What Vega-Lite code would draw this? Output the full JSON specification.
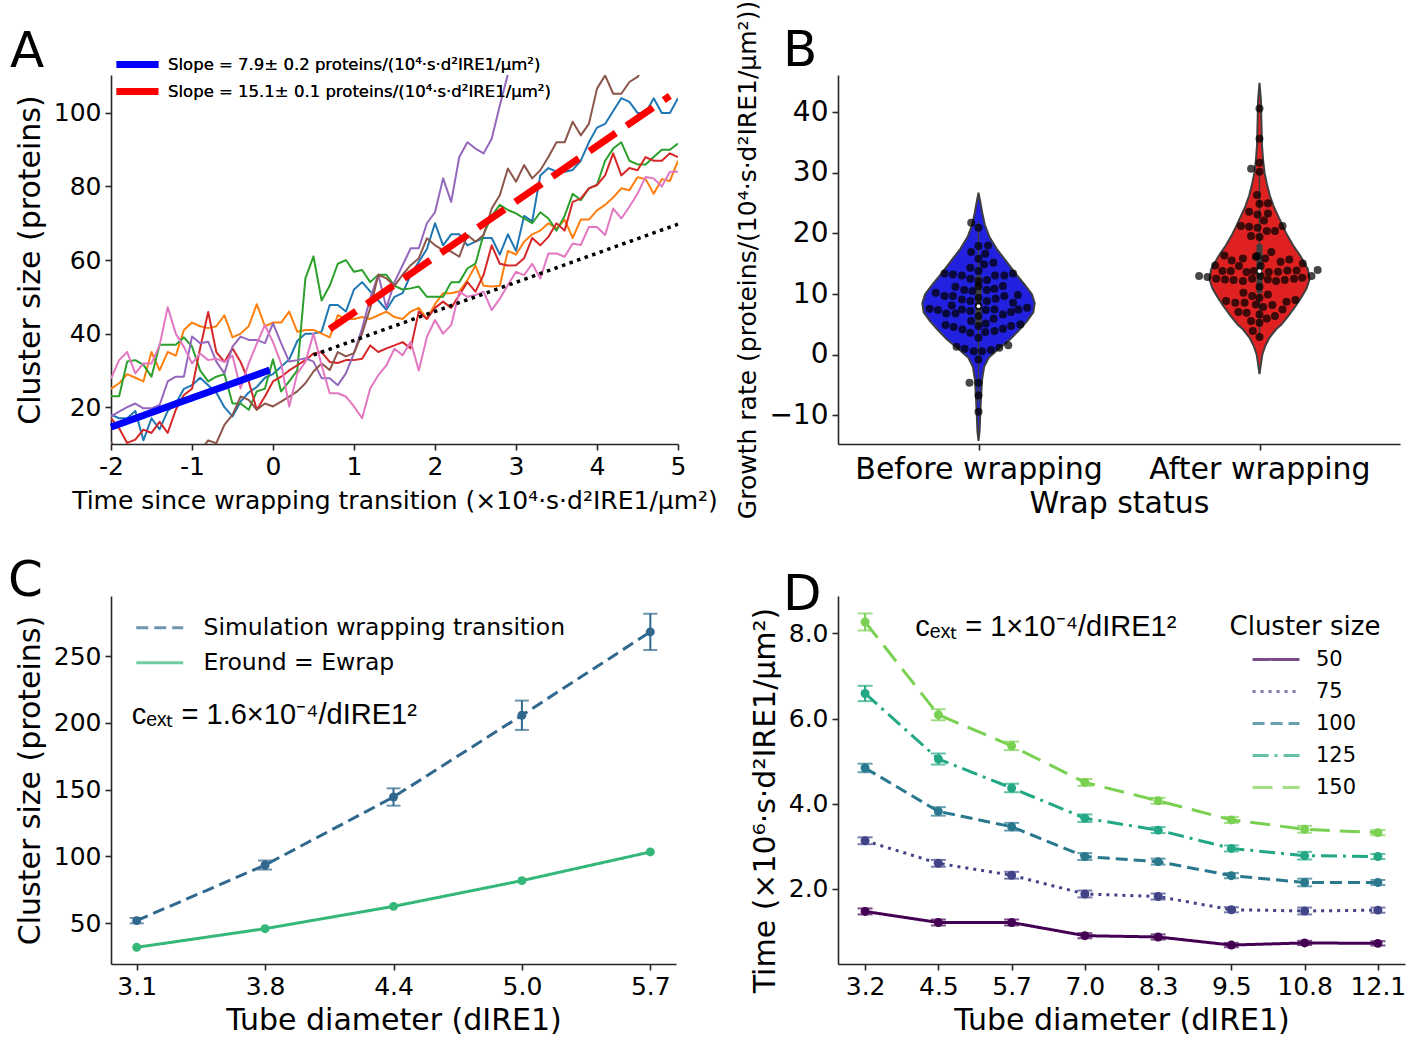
{
"$schema": "https://vega.github.io/schema/vega-lite/v6.json",
"background": "white",
"padding": {"left": 8, "top": 0, "right": 0, "bottom": 0},
"bounds": "flush",
"columns": 2,
"spacing": {"column": 160, "row": 152},
"resolve": {"scale": {"color": "independent", "strokeDash": "independent", "x": "independent", "y": "independent"}, "legend": {"color": "independent", "strokeDash": "independent"}},
"config": {
 "view": {"stroke": null},
 "font": "DejaVu Sans",
 "axis": {"grid": false, "labelFont": "DejaVu Sans", "titleFont": "DejaVu Sans", "labelFontSize": 25, "titleFontSize": 30, "titleFontWeight": "normal", "labelColor": "#000", "titleColor": "#000", "domainColor": "#262626", "tickColor": "#262626", "domainWidth": 1.6, "tickWidth": 1.6, "tickSize": 6, "labelPadding": 4, "labelFlush": false, "labelOverlap": false, "labelLimit": 0},
 "legend": {"labelFont": "DejaVu Sans", "titleFont": "DejaVu Sans", "titleFontWeight": "normal", "labelColor": "#000", "titleColor": "#000", "padding": 0, "labelLimit": 0},
 "title": {"font": "DejaVu Sans", "fontSize": 50, "fontWeight": "normal", "anchor": "start", "color": "#000", "frame": "group", "offset": 0, "baseline": "alphabetic"}
},
"concat": [
{
 "width": 567, "height": 369,
 "title": {"text": "A", "dx": -101, "dy": 27},
 "layer": [
  {
   "data": {"values": [
{"x":-2,"b":18,"o":25,"g":23,"r":17,"p":17.5,"n":10.5,"k":27.8},
{"x":-1.9,"b":17,"o":26.5,"g":23,"r":14.3,"p":18.8,"n":8,"k":32.8},
{"x":-1.8,"b":17,"o":29,"g":32.4,"r":10.3,"p":20,"n":6,"k":35},
{"x":-1.7,"b":19,"o":28,"g":32.8,"r":11.2,"p":21,"n":5,"k":29.2},
{"x":-1.6,"b":11,"o":27,"g":31.5,"r":13.9,"p":19.7,"n":4,"k":31.9},
{"x":-1.5,"b":17,"o":35,"g":28.3,"r":13,"p":19.7,"n":5,"k":31.9},
{"x":-1.4,"b":14,"o":30,"g":37,"r":16,"p":20.6,"n":3,"k":36.8},
{"x":-1.3,"b":19,"o":35,"g":37,"r":13,"p":27,"n":4,"k":47.2},
{"x":-1.2,"b":21,"o":34,"g":37,"r":19.3,"p":28.3,"n":5,"k":40},
{"x":-1.1,"b":25,"o":41,"g":39,"r":23.3,"p":28.3,"n":6,"k":36.4},
{"x":-1,"b":26,"o":43,"g":36.5,"r":25,"p":39.2,"n":7,"k":31.9},
{"x":-0.9,"b":28,"o":42,"g":30,"r":36,"p":37.4,"n":8,"k":34.6},
{"x":-0.8,"b":26,"o":41.5,"g":27,"r":45.9,"p":37.8,"n":11,"k":32.8},
{"x":-0.7,"b":24,"o":42,"g":28.3,"r":35,"p":32.4,"n":10.2,"k":33.2},
{"x":-0.6,"b":20,"o":45,"g":29,"r":32.3,"p":29.2,"n":15.2,"k":32.3},
{"x":-0.5,"b":17.5,"o":39,"g":21,"r":36,"p":36.5,"n":17.9,"k":34},
{"x":-0.4,"b":21.5,"o":40,"g":21,"r":32.3,"p":39.2,"n":22.9,"k":25.1},
{"x":-0.3,"b":24,"o":42,"g":19.3,"r":27,"p":38.3,"n":22,"k":31.9},
{"x":-0.2,"b":25.5,"o":48,"g":24.3,"r":19.3,"p":38.3,"n":19.3,"k":37.3},
{"x":-0.1,"b":28,"o":42,"g":25,"r":22.9,"p":37.4,"n":21,"k":42.3},
{"x":0,"b":29,"o":43,"g":33,"r":27,"p":42.8,"n":20.2,"k":37.7},
{"x":0.1,"b":31,"o":43,"g":24.3,"r":28.3,"p":37.4,"n":21.5,"k":31.9},
{"x":0.2,"b":33,"o":46,"g":27,"r":30,"p":32.4,"n":22.9,"k":20.2},
{"x":0.3,"b":38,"o":40.5,"g":30,"r":31.4,"p":32.8,"n":24.3,"k":29.2},
{"x":0.4,"b":40,"o":41,"g":55,"r":32.8,"p":33.3,"n":26.5,"k":32.3},
{"x":0.5,"b":40,"o":41,"g":61,"r":34.6,"p":32.4,"n":29.7,"k":40},
{"x":0.6,"b":40.5,"o":40,"g":49,"r":35,"p":27.9,"n":31.9,"k":31.4},
{"x":0.7,"b":47.8,"o":39,"g":53,"r":32.3,"p":27.9,"n":30.1,"k":23.8},
{"x":0.8,"b":47.8,"o":45,"g":59,"r":32,"p":26,"n":35,"k":23.8},
{"x":0.9,"b":46,"o":44,"g":60,"r":32.8,"p":29.2,"n":33.8,"k":22.9},
{"x":1,"b":52,"o":44,"g":56.8,"r":32.8,"p":34.7,"n":34.7,"k":20.2},
{"x":1.1,"b":54,"o":44.5,"g":57.3,"r":33.2,"p":41.4,"n":40,"k":17},
{"x":1.2,"b":51.5,"o":44,"g":54,"r":36.8,"p":49.6,"n":46.9,"k":25.1},
{"x":1.3,"b":49,"o":45,"g":56,"r":35,"p":56,"n":56,"k":28.7},
{"x":1.4,"b":46.5,"o":46,"g":56,"r":36,"p":47,"n":55,"k":31.4},
{"x":1.5,"b":50,"o":44.5,"g":53,"r":36.8,"p":54,"n":53,"k":35.9},
{"x":1.6,"b":51,"o":44,"g":52,"r":37.7,"p":58.6,"n":56,"k":34.1},
{"x":1.7,"b":56,"o":46,"g":52.3,"r":36,"p":63.2,"n":58.6,"k":37.8},
{"x":1.8,"b":59.5,"o":47,"g":52.8,"r":46,"p":63.2,"n":60.5,"k":30},
{"x":1.9,"b":63,"o":44,"g":50,"r":44,"p":70,"n":65.9,"k":39.1},
{"x":2,"b":70,"o":48,"g":50,"r":47,"p":73,"n":64,"k":43.7},
{"x":2.1,"b":64,"o":51,"g":50,"r":48.7,"p":82.2,"n":62.7,"k":40},
{"x":2.2,"b":67,"o":51,"g":54,"r":47,"p":75.8,"n":62.3,"k":42.3},
{"x":2.3,"b":67,"o":51.5,"g":54,"r":50.5,"p":88,"n":60.9,"k":51.4},
{"x":2.4,"b":64,"o":54.5,"g":57.7,"r":54,"p":92,"n":66.8,"k":50},
{"x":2.5,"b":65,"o":58.5,"g":59,"r":51.4,"p":90.3,"n":65,"k":50.5},
{"x":2.6,"b":66,"o":53,"g":67,"r":56,"p":89,"n":66.8,"k":51.4},
{"x":2.7,"b":66,"o":52.8,"g":72,"r":64,"p":93,"n":74,"k":46.4},
{"x":2.8,"b":61.5,"o":53,"g":75,"r":59,"p":102,"n":77.6,"k":49.5},
{"x":2.9,"b":67,"o":62.5,"g":73.6,"r":58.5,"p":110.5,"n":84.9,"k":53.2},
{"x":3,"b":62.5,"o":61.5,"g":72.7,"r":58.6,"p":116,"n":81.3,"k":56.8},
{"x":3.1,"b":72,"o":65,"g":71.3,"r":60.5,"n":85.8,"k":55.9},
{"x":3.2,"b":70.5,"o":67,"g":70,"r":66,"n":82.2,"k":59},
{"x":3.3,"b":83,"o":68,"g":73,"r":64,"n":84.4,"k":55},
{"x":3.4,"b":85,"o":70,"g":71.3,"r":66.3,"n":88,"k":61.8},
{"x":3.5,"b":84,"o":68.5,"g":68,"r":70,"n":92,"k":61.8},
{"x":3.6,"b":84,"o":71,"g":72,"r":68,"n":92,"k":60.9},
{"x":3.7,"b":84.5,"o":66,"g":78,"r":75.8,"n":97.6,"k":64.5},
{"x":3.8,"b":87,"o":71,"g":76.3,"r":76.7,"n":93.9,"k":64.1},
{"x":3.9,"b":92,"o":71,"g":79.5,"r":79.5,"n":97,"k":69},
{"x":4,"b":96,"o":73.5,"g":80.4,"r":80.4,"n":106.6,"k":69},
{"x":4.1,"b":97,"o":75,"g":87,"r":83,"n":110.2,"k":66.8},
{"x":4.2,"b":100.5,"o":77,"g":90.3,"r":89,"n":105.2,"k":74},
{"x":4.3,"b":104,"o":79.5,"g":92,"r":83,"n":105.2,"k":71.3},
{"x":4.4,"b":103,"o":79,"g":87,"r":85,"n":108.4,"k":74.5},
{"x":4.5,"b":100,"o":82.5,"g":86,"r":84.4,"n":109.8,"k":78},
{"x":4.6,"b":100,"o":82,"g":86,"r":88,"n":113,"k":82.6},
{"x":4.7,"b":104,"o":78,"g":88,"r":87,"k":82.2},
{"x":4.8,"b":100,"o":82,"g":90,"r":87,"k":80},
{"x":4.9,"b":100,"o":81.5,"g":90,"r":89,"k":84},
{"x":5,"b":104,"o":87,"g":91.7,"r":88,"k":84}
   ]},
   "transform": [{"fold": ["b","o","g","r","p","n","k"], "as": ["s","y"]}],
   "mark": {"type": "line", "strokeWidth": 2, "clip": true, "strokeJoin": "round"},
   "encoding": {
    "x": {"field": "x", "type": "quantitative", "scale": {"domain": [-2, 5], "nice": false}, "axis": {"values": [-2,-1,0,1,2,3,4,5], "format": "d", "labelExpr": "replace(datum.label, '−', '-')", "title": "Time since wrapping transition (×10⁴·s·d²IRE1/μm²)", "titleFontSize": 25, "titlePadding": 9}},
    "y": {"field": "y", "type": "quantitative", "scale": {"domain": [10, 110.3], "nice": false, "zero": false}, "axis": {"values": [20,40,60,80,100], "title": "Cluster size (proteins)", "titlePadding": 8}},
    "color": {"field": "s", "type": "nominal", "scale": {"domain": ["b","o","g","r","p","n","k"], "range": ["#1f77b4","#ff7f0e","#2ca02c","#d62728","#9467bd","#8c564b","#e377c2"]}, "legend": null}
   }
  },
  {
   "data": {"values": [{"x": 0.5, "y": 34.2}, {"x": 5, "y": 69.75}]},
   "mark": {"type": "line", "color": "#000", "strokeWidth": 3.5, "strokeDash": [3.5, 4.5]},
   "encoding": {"x": {"field": "x", "type": "quantitative"}, "y": {"field": "y", "type": "quantitative"}}
  },
  {
   "data": {"values": [
    {"fit": "Slope = 7.9± 0.2 proteins/(10⁴·s·d²IRE1/μm²)", "x": -2, "y": 14.6},
    {"fit": "Slope = 7.9± 0.2 proteins/(10⁴·s·d²IRE1/μm²)", "x": -0.04, "y": 30.1},
    {"fit": "Slope = 15.1± 0.1 proteins/(10⁴·s·d²IRE1/μm²)", "x": 0.7, "y": 41.2},
    {"fit": "Slope = 15.1± 0.1 proteins/(10⁴·s·d²IRE1/μm²)", "x": 4.9, "y": 104.6}
   ]},
   "mark": {"type": "line", "strokeWidth": 7},
   "encoding": {
    "x": {"field": "x", "type": "quantitative"},
    "y": {"field": "y", "type": "quantitative"},
    "color": {"field": "fit", "type": "nominal", "sort": null, "scale": {"domain": ["Slope = 7.9± 0.2 proteins/(10⁴·s·d²IRE1/μm²)", "Slope = 15.1± 0.1 proteins/(10⁴·s·d²IRE1/μm²)"], "range": ["#0000ff", "#ff0000"]},
     "legend": {"title": null, "orient": "none", "legendX": 16, "legendY": -21, "symbolType": "M-3,0H3", "symbolSize": 196, "symbolStrokeWidth": 7, "labelFontSize": 16.5, "labelOffset": 20, "rowPadding": -2}},
    "strokeDash": {"field": "fit", "type": "nominal", "sort": null, "scale": {"domain": ["Slope = 7.9± 0.2 proteins/(10⁴·s·d²IRE1/μm²)", "Slope = 15.1± 0.1 proteins/(10⁴·s·d²IRE1/μm²)"], "range": [[1, 0], [32, 13]]},
     "legend": {"title": null, "orient": "none", "legendX": 16, "legendY": -21, "symbolType": "M-3,0H3", "symbolSize": 196, "symbolStrokeWidth": 7, "labelFontSize": 16.5, "labelOffset": 20, "rowPadding": -2}}
   }
  }
 ],
 "resolve": {"scale": {"color": "independent"}}
},
{
 "width": 562, "height": 369,
 "title": {"text": "B", "dx": -55, "dy": 80},
 "layer": [
  {
   "data": {"values": [
{"g":"Before","y":26.7,"lo":0,"hi":0},
{"g":"Before","y":25.5,"lo":-0.005,"hi":0.005},
{"g":"Before","y":23.5,"lo":-0.013,"hi":0.013},
{"g":"Before","y":21.5,"lo":-0.022,"hi":0.022},
{"g":"Before","y":19.5,"lo":-0.038,"hi":0.038},
{"g":"Before","y":17.5,"lo":-0.064,"hi":0.064},
{"g":"Before","y":15.5,"lo":-0.097,"hi":0.097},
{"g":"Before","y":13.5,"lo":-0.13,"hi":0.13},
{"g":"Before","y":11.5,"lo":-0.165,"hi":0.165},
{"g":"Before","y":10,"lo":-0.19,"hi":0.19},
{"g":"Before","y":8.5,"lo":-0.2,"hi":0.2},
{"g":"Before","y":7,"lo":-0.195,"hi":0.195},
{"g":"Before","y":5.5,"lo":-0.172,"hi":0.172},
{"g":"Before","y":4,"lo":-0.143,"hi":0.143},
{"g":"Before","y":2.5,"lo":-0.112,"hi":0.112},
{"g":"Before","y":1,"lo":-0.072,"hi":0.072},
{"g":"Before","y":-0.5,"lo":-0.036,"hi":0.036},
{"g":"Before","y":-2,"lo":-0.02,"hi":0.02},
{"g":"Before","y":-4,"lo":-0.013,"hi":0.013},
{"g":"Before","y":-7,"lo":-0.009,"hi":0.009},
{"g":"Before","y":-10,"lo":-0.006,"hi":0.006},
{"g":"Before","y":-12.5,"lo":-0.004,"hi":0.004},
{"g":"Before","y":-14.2,"lo":0,"hi":0},
{"g":"After","y":44.8,"lo":1,"hi":1},
{"g":"After","y":42,"lo":0.995,"hi":1.005},
{"g":"After","y":38,"lo":0.993,"hi":1.007},
{"g":"After","y":34.4,"lo":0.991,"hi":1.009},
{"g":"After","y":32,"lo":0.987,"hi":1.013},
{"g":"After","y":30,"lo":0.982,"hi":1.018},
{"g":"After","y":28,"lo":0.973,"hi":1.027},
{"g":"After","y":26.2,"lo":0.963,"hi":1.037},
{"g":"After","y":24.5,"lo":0.95,"hi":1.05},
{"g":"After","y":22.9,"lo":0.934,"hi":1.066},
{"g":"After","y":21,"lo":0.915,"hi":1.085},
{"g":"After","y":19.6,"lo":0.9,"hi":1.1},
{"g":"After","y":18,"lo":0.88,"hi":1.12},
{"g":"After","y":16.3,"lo":0.855,"hi":1.145},
{"g":"After","y":14.1,"lo":0.828,"hi":1.172},
{"g":"After","y":12.4,"lo":0.822,"hi":1.178},
{"g":"After","y":11,"lo":0.832,"hi":1.168},
{"g":"After","y":9.7,"lo":0.848,"hi":1.152},
{"g":"After","y":8,"lo":0.872,"hi":1.128},
{"g":"After","y":6.4,"lo":0.897,"hi":1.103},
{"g":"After","y":5,"lo":0.922,"hi":1.078},
{"g":"After","y":4.2,"lo":0.941,"hi":1.059},
{"g":"After","y":2.8,"lo":0.965,"hi":1.035},
{"g":"After","y":1.4,"lo":0.98,"hi":1.02},
{"g":"After","y":0,"lo":0.99,"hi":1.01},
{"g":"After","y":-1.5,"lo":0.995,"hi":1.005},
{"g":"After","y":-3.2,"lo":1,"hi":1}
   ]},
   "mark": {"type": "area", "orient": "horizontal", "stroke": "#3f3f3f", "strokeWidth": 2, "opacity": 1},
   "encoding": {
    "y": {"field": "y", "type": "quantitative", "sort": null, "scale": {"domain": [-14.7, 46.1], "nice": false, "zero": false}, "axis": {"values": [-10,0,10,20,30,40], "labelFontSize": 28, "title": "Growth rate (proteins/(10⁴·s·d²IRE1/μm²))", "titleFontSize": 25, "titlePadding": 8}},
    "x": {"field": "lo", "type": "quantitative", "scale": {"domain": [-0.5, 1.5], "nice": false, "zero": false}, "axis": {"values": [0, 1], "labelExpr": "datum.value < 0.5 ? 'Before wrapping' : 'After wrapping'", "labelFontSize": 30, "title": "Wrap status", "titlePadding": 4}},
    "x2": {"field": "hi"},
    "color": {"field": "g", "type": "nominal", "scale": {"domain": ["Before", "After"], "range": ["#2121df", "#df2121"]}, "legend": null}
   }
  },
  {
   "data": {"values": [
    {"g": 0, "lo": -7.8, "hi": 21.8, "q1": 4.7, "q3": 13.0, "med": 8.0},
    {"g": 1, "lo": 2.9, "hi": 30.2, "q1": 10.2, "q3": 18.2, "med": 13.8}
   ]},
   "layer": [
    {"mark": {"type": "rule", "color": "#3f3f3f", "strokeWidth": 1.5}, "encoding": {"x": {"field": "g", "type": "quantitative"}, "y": {"field": "lo", "type": "quantitative"}, "y2": {"field": "hi"}}},
    {"mark": {"type": "rule", "color": "#3f3f3f", "strokeWidth": 6}, "encoding": {"x": {"field": "g", "type": "quantitative"}, "y": {"field": "q1", "type": "quantitative"}, "y2": {"field": "q3"}}}
   ]
  },
  {
   "data": {"values": [
{"g":"Before","x":-0.026,"y":21.76},{"g":"Before","x":0,"y":20.93},{"g":"Before","x":0,"y":17.91},{"g":"Before","x":0.034,"y":18.02},{"g":"Before","x":-0.026,"y":16.92},{"g":"Before","x":0.024,"y":16.65},{"g":"Before","x":0,"y":15.82},{"g":"Before","x":0.02,"y":14.89},{"g":"Before","x":0.053,"y":15.16},{"g":"Before","x":-0.029,"y":14.34},{"g":"Before","x":0,"y":13.79},{"g":"Before","x":-0.121,"y":13.41},{"g":"Before","x":-0.091,"y":13.24},{"g":"Before","x":-0.059,"y":13.08},{"g":"Before","x":-0.029,"y":12.53},{"g":"Before","x":0,"y":12.14},{"g":"Before","x":0.03,"y":12.31},{"g":"Before","x":0.059,"y":13.08},{"g":"Before","x":0.092,"y":13.08},{"g":"Before","x":0.123,"y":13.41},{"g":"Before","x":-0.082,"y":11.21},{"g":"Before","x":-0.051,"y":10.66},{"g":"Before","x":-0.022,"y":10.49},{"g":"Before","x":0,"y":11.3},{"g":"Before","x":0.03,"y":10.66},{"g":"Before","x":0.057,"y":10.88},{"g":"Before","x":0.087,"y":11.32},{"g":"Before","x":-0.152,"y":10.22},{"g":"Before","x":-0.121,"y":9.67},{"g":"Before","x":-0.091,"y":9.67},{"g":"Before","x":-0.059,"y":9.12},{"g":"Before","x":-0.029,"y":8.85},{"g":"Before","x":0,"y":9.4},{"g":"Before","x":0.03,"y":8.85},{"g":"Before","x":0.061,"y":9.23},{"g":"Before","x":0.092,"y":9.67},{"g":"Before","x":0.123,"y":8.57},{"g":"Before","x":0.14,"y":9.84},{"g":"Before","x":-0.174,"y":7.58},{"g":"Before","x":-0.144,"y":7.36},{"g":"Before","x":-0.115,"y":6.81},{"g":"Before","x":-0.095,"y":8.13},{"g":"Before","x":-0.082,"y":6.81},{"g":"Before","x":-0.059,"y":7.47},{"g":"Before","x":-0.029,"y":7.2},{"g":"Before","x":0,"y":8.02},{"g":"Before","x":0.026,"y":7.36},{"g":"Before","x":0.057,"y":7.47},{"g":"Before","x":0.087,"y":6.65},{"g":"Before","x":0.116,"y":7.03},{"g":"Before","x":0.142,"y":7.47},{"g":"Before","x":0.173,"y":7.75},{"g":"Before","x":-0.117,"y":4.89},{"g":"Before","x":-0.088,"y":4.56},{"g":"Before","x":-0.057,"y":4.18},{"g":"Before","x":-0.026,"y":5.55},{"g":"Before","x":0,"y":6.37},{"g":"Before","x":0,"y":4.73},{"g":"Before","x":0.026,"y":5.16},{"g":"Before","x":0.054,"y":5.93},{"g":"Before","x":0.087,"y":4.29},{"g":"Before","x":0.116,"y":4.73},{"g":"Before","x":0.149,"y":5.0},{"g":"Before","x":-0.029,"y":3.63},{"g":"Before","x":0,"y":2.8},{"g":"Before","x":0.024,"y":3.74},{"g":"Before","x":0.057,"y":3.9},{"g":"Before","x":-0.078,"y":1.32},{"g":"Before","x":-0.049,"y":0.99},{"g":"Before","x":-0.017,"y":0.6},{"g":"Before","x":0.013,"y":0.6},{"g":"Before","x":0.044,"y":0.77},{"g":"Before","x":0.074,"y":1.15},{"g":"Before","x":0.106,"y":1.59},{"g":"Before","x":0,"y":-0.77},{"g":"Before","x":-0.032,"y":-4.62},{"g":"Before","x":0,"y":-4.62},{"g":"Before","x":0,"y":-6.7},{"g":"Before","x":0,"y":-9.4},
{"g":"After","x":1,"y":40.6},{"g":"After","x":1,"y":35.6},{"g":"After","x":0.97,"y":30.66},{"g":"After","x":1,"y":31.65},{"g":"After","x":1,"y":30.16},{"g":"After","x":0.991,"y":26.32},{"g":"After","x":0.963,"y":23.57},{"g":"After","x":1,"y":24.89},{"g":"After","x":1.03,"y":24.95},{"g":"After","x":0.993,"y":23.13},{"g":"After","x":1.03,"y":23.3},{"g":"After","x":1.016,"y":22.14},{"g":"After","x":0.934,"y":21.21},{"g":"After","x":0.963,"y":21.1},{"g":"After","x":0.993,"y":20.93},{"g":"After","x":1.082,"y":21.21},{"g":"After","x":1.026,"y":20.38},{"g":"After","x":1.055,"y":20.38},{"g":"After","x":0.97,"y":19.56},{"g":"After","x":1,"y":19.4},{"g":"After","x":0.991,"y":16.26},{"g":"After","x":1.042,"y":16.92},{"g":"After","x":0.875,"y":16.37},{"g":"After","x":0.901,"y":15.55},{"g":"After","x":0.941,"y":15.88},{"g":"After","x":0.987,"y":16.15},{"g":"After","x":1.02,"y":15.88},{"g":"After","x":1.075,"y":15.33},{"g":"After","x":1.106,"y":15.71},{"g":"After","x":1.154,"y":15.05},{"g":"After","x":0.842,"y":14.73},{"g":"After","x":0.868,"y":13.79},{"g":"After","x":0.898,"y":13.79},{"g":"After","x":0.927,"y":14.62},{"g":"After","x":0.954,"y":13.63},{"g":"After","x":0.98,"y":13.79},{"g":"After","x":1.004,"y":14.62},{"g":"After","x":1.033,"y":13.63},{"g":"After","x":1.066,"y":13.68},{"g":"After","x":1.099,"y":13.9},{"g":"After","x":1.132,"y":13.9},{"g":"After","x":1.207,"y":13.96},{"g":"After","x":0.785,"y":12.97},{"g":"After","x":0.815,"y":12.8},{"g":"After","x":0.846,"y":12.53},{"g":"After","x":0.877,"y":12.42},{"g":"After","x":0.908,"y":12.31},{"g":"After","x":0.941,"y":12.14},{"g":"After","x":0.974,"y":12.53},{"g":"After","x":1.004,"y":12.97},{"g":"After","x":1.03,"y":12.42},{"g":"After","x":1.059,"y":12.14},{"g":"After","x":1.09,"y":12.31},{"g":"After","x":1.123,"y":12.53},{"g":"After","x":1.152,"y":12.69},{"g":"After","x":1.185,"y":12.97},{"g":"After","x":0.943,"y":10.22},{"g":"After","x":0.974,"y":9.67},{"g":"After","x":1,"y":11.21},{"g":"After","x":1.03,"y":9.95},{"g":"After","x":1,"y":9.4},{"g":"After","x":0.881,"y":8.85},{"g":"After","x":0.914,"y":8.57},{"g":"After","x":0.947,"y":8.57},{"g":"After","x":0.987,"y":8.3},{"g":"After","x":1.013,"y":7.86},{"g":"After","x":1.046,"y":8.19},{"g":"After","x":1.096,"y":8.74},{"g":"After","x":1.128,"y":9.01},{"g":"After","x":0.925,"y":7.03},{"g":"After","x":0.954,"y":6.92},{"g":"After","x":1,"y":6.65},{"g":"After","x":1.026,"y":5.99},{"g":"After","x":1.055,"y":6.37},{"g":"After","x":1.082,"y":7.47},{"g":"After","x":0.97,"y":5.55},{"g":"After","x":1,"y":5.27},{"g":"After","x":0.976,"y":3.9},{"g":"After","x":1,"y":2.91}
   ]},
   "mark": {"type": "circle", "color": "#000", "opacity": 0.72, "size": 64},
   "encoding": {"x": {"field": "x", "type": "quantitative"}, "y": {"field": "y", "type": "quantitative"}}
  },
  {
   "data": {"values": [{"g": 0, "med": 8.0}, {"g": 1, "med": 13.8}]},
   "mark": {"type": "circle", "color": "#fff", "opacity": 1, "size": 14},
   "encoding": {"x": {"field": "g", "type": "quantitative"}, "y": {"field": "med", "type": "quantitative"}}
  }
 ]
},
{
 "width": 565, "height": 368,
 "title": {"text": "C", "dx": -103, "dy": 14},
 "data": {"values": [
  {"d": 3.1, "s": "Simulation wrapping transition", "m": 51.8, "e": 2},
  {"d": 3.8, "s": "Simulation wrapping transition", "m": 93.5, "e": 3.4},
  {"d": 4.4, "s": "Simulation wrapping transition", "m": 144.5, "e": 6.5},
  {"d": 5.0, "s": "Simulation wrapping transition", "m": 205.8, "e": 11},
  {"d": 5.7, "s": "Simulation wrapping transition", "m": 268.3, "e": 13.6},
  {"d": 3.1, "s": "Eround = Ewrap", "m": 31.8},
  {"d": 3.8, "s": "Eround = Ewrap", "m": 45.8},
  {"d": 4.4, "s": "Eround = Ewrap", "m": 62.5},
  {"d": 5.0, "s": "Eround = Ewrap", "m": 81.8},
  {"d": 5.7, "s": "Eround = Ewrap", "m": 103.3}
 ]},
 "encoding": {
  "x": {"field": "d", "type": "ordinal", "scale": {"type": "point", "padding": 0.2}, "axis": {"format": ".1f", "labelAngle": 0, "title": "Tube diameter (dIRE1)", "titlePadding": 6}},
  "y": {"field": "m", "type": "quantitative", "scale": {"domain": [19.3, 295.2], "nice": false, "zero": false}, "axis": {"values": [50,100,150,200,250], "title": "Cluster size (proteins)", "titlePadding": 8}}
 },
 "layer": [
  {
   "mark": {"type": "line", "strokeWidth": 3},
   "encoding": {
    "color": {"field": "s", "type": "nominal", "sort": null, "scale": {"domain": ["Simulation wrapping transition", "Eround = Ewrap"], "range": ["#31688e", "#35b779"]},
     "legend": {"title": null, "orient": "none", "legendX": 37, "legendY": 20, "symbolType": "M-3,0H3", "symbolSize": 245, "symbolStrokeWidth": 3, "labelFontSize": 23.5, "labelOffset": 32, "rowPadding": 10}},
    "strokeDash": {"field": "s", "type": "nominal", "sort": null, "scale": {"domain": ["Simulation wrapping transition", "Eround = Ewrap"], "range": [[12, 6], [1, 0]]},
     "legend": {"title": null, "orient": "none", "legendX": 37, "legendY": 20, "symbolType": "M-3,0H3", "symbolSize": 245, "symbolStrokeWidth": 3, "labelFontSize": 23.5, "labelOffset": 32, "rowPadding": 10}}
   }
  },
  {
   "transform": [{"filter": "isValid(datum.e)"}],
   "mark": {"type": "errorbar", "ticks": {"size": 14}, "thickness": 2},
   "encoding": {"y": {"field": "m", "type": "quantitative"}, "yError": {"field": "e"}, "color": {"field": "s", "type": "nominal", "sort": null}}
  },
  {
   "mark": {"type": "circle", "size": 80, "opacity": 1},
   "encoding": {"color": {"field": "s", "type": "nominal", "sort": null}}
  },
  {
   "data": {"values": [{"d": 3.1, "m": 206, "label": "cₑₓₜ = 1.6×10⁻⁴/dIRE1²"}]},
   "mark": {"type": "text", "align": "left", "baseline": "middle", "dx": -5, "font": "Liberation Sans", "fontSize": 29, "color": "#000"},
   "encoding": {"text": {"field": "label"}}
  }
 ]
},
{
 "width": 567, "height": 368,
 "title": {"text": "D", "dx": -55, "dy": 28},
 "data": {"values": [
  {"d":3.2,"c":"50","m":1.47,"e":0.07},{"d":4.5,"c":"50","m":1.21,"e":0.07},{"d":5.7,"c":"50","m":1.21,"e":0.07},{"d":7.0,"c":"50","m":0.9,"e":0.06},{"d":8.3,"c":"50","m":0.87,"e":0.06},{"d":9.5,"c":"50","m":0.68,"e":0.05},{"d":10.8,"c":"50","m":0.73,"e":0.05},{"d":12.1,"c":"50","m":0.72,"e":0.05},
  {"d":3.2,"c":"75","m":3.13,"e":0.08},{"d":4.5,"c":"75","m":2.6,"e":0.08},{"d":5.7,"c":"75","m":2.32,"e":0.08},{"d":7.0,"c":"75","m":1.88,"e":0.08},{"d":8.3,"c":"75","m":1.82,"e":0.07},{"d":9.5,"c":"75","m":1.51,"e":0.06},{"d":10.8,"c":"75","m":1.48,"e":0.08},{"d":12.1,"c":"75","m":1.5,"e":0.06},
  {"d":3.2,"c":"100","m":4.84,"e":0.1},{"d":4.5,"c":"100","m":3.82,"e":0.1},{"d":5.7,"c":"100","m":3.46,"e":0.09},{"d":7.0,"c":"100","m":2.76,"e":0.08},{"d":8.3,"c":"100","m":2.64,"e":0.07},{"d":9.5,"c":"100","m":2.31,"e":0.06},{"d":10.8,"c":"100","m":2.15,"e":0.09},{"d":12.1,"c":"100","m":2.15,"e":0.06},
  {"d":3.2,"c":"125","m":6.59,"e":0.18},{"d":4.5,"c":"125","m":5.05,"e":0.13},{"d":5.7,"c":"125","m":4.37,"e":0.1},{"d":7.0,"c":"125","m":3.66,"e":0.09},{"d":8.3,"c":"125","m":3.38,"e":0.07},{"d":9.5,"c":"125","m":2.95,"e":0.07},{"d":10.8,"c":"125","m":2.78,"e":0.09},{"d":12.1,"c":"125","m":2.76,"e":0.06},
  {"d":3.2,"c":"150","m":8.27,"e":0.2},{"d":4.5,"c":"150","m":6.09,"e":0.13},{"d":5.7,"c":"150","m":5.36,"e":0.1},{"d":7.0,"c":"150","m":4.5,"e":0.08},{"d":8.3,"c":"150","m":4.07,"e":0.07},{"d":9.5,"c":"150","m":3.62,"e":0.07},{"d":10.8,"c":"150","m":3.4,"e":0.08},{"d":12.1,"c":"150","m":3.32,"e":0.06}
 ]},
 "encoding": {
  "x": {"field": "d", "type": "ordinal", "scale": {"type": "point", "padding": 0.37}, "axis": {"format": ".1f", "labelAngle": 0, "title": "Tube diameter (dIRE1)", "titlePadding": 6}},
  "y": {"field": "m", "type": "quantitative", "scale": {"domain": [0.235, 8.88], "nice": false, "zero": false}, "axis": {"values": [2,4,6,8], "format": ".1f", "title": "Time  (×10⁶·s·d²IRE1/μm²)", "titlePadding": 8, "titleY": 204}}
 },
 "layer": [
  {
   "mark": {"type": "line", "strokeWidth": 3},
   "encoding": {
    "color": {"field": "c", "type": "nominal", "scale": {"domain": ["50","75","100","125","150"], "range": ["#440154","#414487","#2a788e","#22a884","#7ad151"]},
     "legend": {"title": "Cluster size", "titleFontSize": 26, "titleAnchor": "middle", "titleAlign": "center", "titlePadding": 9, "orient": "none", "legendX": 392, "legendY": 18, "symbolType": "M-1.4,0H4.6", "symbolSize": 245, "symbolStrokeWidth": 3, "labelFontSize": 21, "labelOffset": 42, "rowPadding": 10}},
    "strokeDash": {"field": "c", "type": "nominal", "scale": {"domain": ["50","75","100","125","150"], "range": [[1,0],[3,5],[12,6],[16,6,3,6],[20,10]]},
     "legend": {"title": "Cluster size", "titleFontSize": 26, "titleAnchor": "middle", "titleAlign": "center", "titlePadding": 9, "orient": "none", "legendX": 392, "legendY": 18, "symbolType": "M-1.4,0H4.6", "symbolSize": 245, "symbolStrokeWidth": 3, "labelFontSize": 21, "labelOffset": 42, "rowPadding": 10}}
   }
  },
  {
   "mark": {"type": "errorbar", "ticks": {"size": 15}, "thickness": 2},
   "encoding": {"y": {"field": "m", "type": "quantitative"}, "yError": {"field": "e"}, "color": {"field": "c", "type": "nominal"}}
  },
  {
   "mark": {"type": "circle", "size": 80, "opacity": 1},
   "encoding": {"color": {"field": "c", "type": "nominal"}}
  },
  {
   "data": {"values": [{"d": 4.5, "m": 8.16, "label": "cₑₓₜ = 1×10⁻⁴/dIRE1²"}]},
   "mark": {"type": "text", "align": "left", "baseline": "middle", "dx": -23, "font": "Liberation Sans", "fontSize": 29, "color": "#000"},
   "encoding": {"text": {"field": "label"}}
  }
 ]
}
]
}
